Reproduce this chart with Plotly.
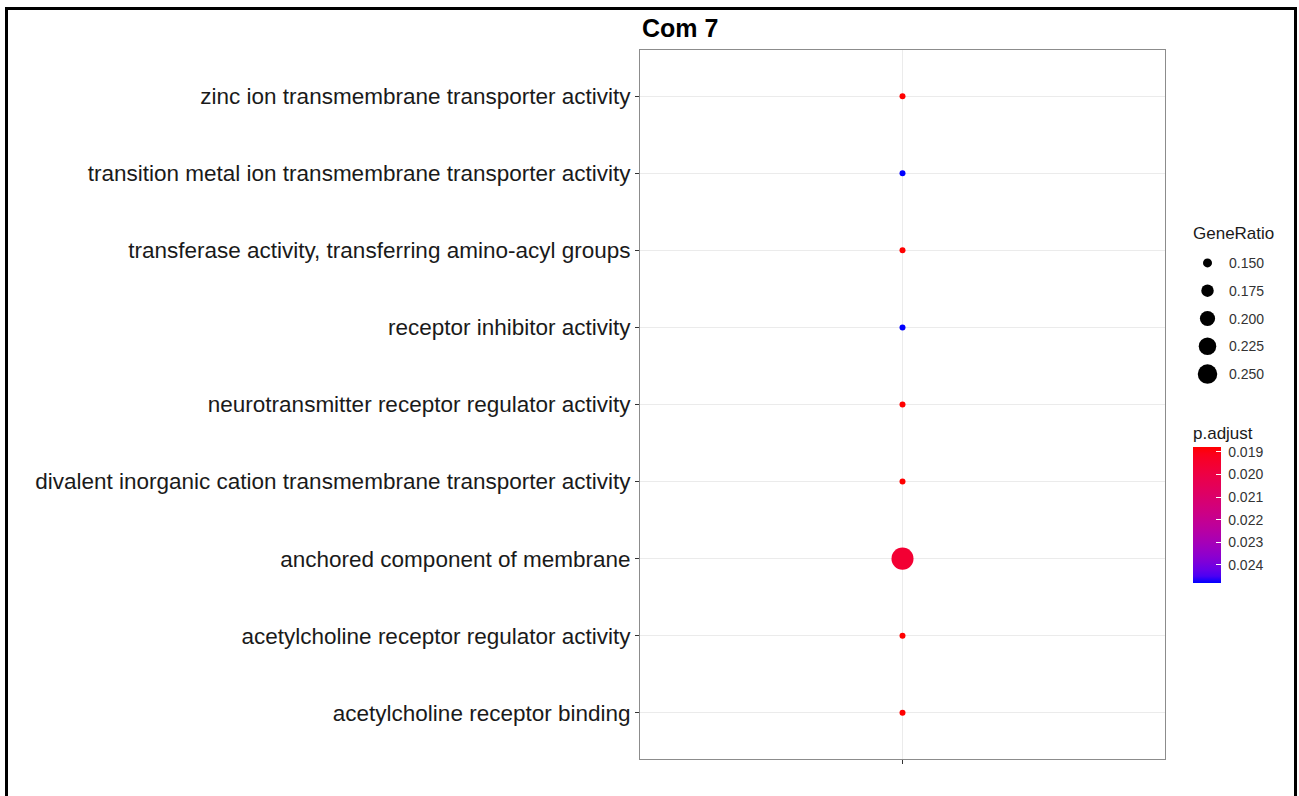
import numpy as np
import plotly.graph_objects as go

# ---- data -------------------------------------------------------------
terms = [
    "acetylcholine receptor binding",
    "acetylcholine receptor regulator activity",
    "anchored component of membrane",
    "divalent inorganic cation transmembrane transporter activity",
    "neurotransmitter receptor regulator activity",
    "receptor inhibitor activity",
    "transferase activity, transferring amino-acyl groups",
    "transition metal ion transmembrane transporter activity",
    "zinc ion transmembrane transporter activity",
]
cluster = ["Com 7"] * len(terms)
gene_ratio = [0.135, 0.135, 0.285, 0.135, 0.135, 0.135, 0.135, 0.135, 0.135]
p_adjust = [0.01878, 0.01878, 0.0196, 0.01878, 0.01878, 0.0248, 0.01878, 0.0248, 0.01878]

size_breaks = [0.150, 0.175, 0.200, 0.225, 0.250]
size_labels = ["0.150", "0.175", "0.200", "0.225", "0.250"]
p_breaks = [0.019, 0.020, 0.021, 0.022, 0.023, 0.024]
p_labels = ["0.019", "0.020", "0.021", "0.022", "0.023", "0.024"]

# ---- figure geometry (pixels) -----------------------------------------
W, H = 1299, 796
FONT = "Liberation Sans, Arial, Helvetica, sans-serif"


def px_x(x):
    return x / W


def px_y(y):
    return 1 - y / H


def marker_diameter(v):
    # area-proportional size scale
    return float(np.sqrt(81 + 3000 * (v - 0.15)))


# ---- red -> blue gradient interpolated in CIE Lab ---------------------
M = np.array([[0.4124, 0.3576, 0.1805],
              [0.2126, 0.7152, 0.0722],
              [0.0193, 0.1192, 0.9505]])
WHITE = np.array([0.95047, 1.0, 1.08883])
D = 6 / 29


def rgb_to_lab(rgb):
    c = np.array(rgb) / 255.0
    lin = np.where(c <= 0.04045, c / 12.92, ((c + 0.055) / 1.055) ** 2.4)
    xyz = M @ lin / WHITE
    f = np.where(xyz > D ** 3, np.cbrt(xyz), xyz / (3 * D * D) + 4 / 29)
    return np.array([116 * f[1] - 16, 500 * (f[0] - f[1]), 200 * (f[1] - f[2])])


def lab_to_rgb(lab):
    L, a, b = lab
    fy = (L + 16) / 116
    f = np.array([fy + a / 500, fy, fy - b / 200])
    xyz = np.where(f > D, f ** 3, 3 * D * D * (f - 4 / 29)) * WHITE
    lin = np.clip(np.linalg.solve(M, xyz), 0, 1)
    c = np.where(lin <= 0.0031308, 12.92 * lin, 1.055 * lin ** (1 / 2.4) - 0.055)
    r, g, bb = np.clip(np.round(c * 255), 0, 255).astype(int)
    return f"rgb({r},{g},{bb})"


lab_blue = rgb_to_lab((0, 0, 255))
lab_red = rgb_to_lab((255, 0, 0))
colorscale = [[t, lab_to_rgb(lab_blue + (lab_red - lab_blue) * t)]
              for t in np.linspace(0, 1, 21)]

# colour is mapped on -p.adjust so the smallest value sits at the top of the bar
neg_p = [-p for p in p_adjust]
NBSP = "\u00a0"

fig = go.Figure()

fig.add_trace(go.Scatter(
    x=cluster, y=terms, mode="markers",
    marker=dict(
        size=[marker_diameter(v) for v in gene_ratio],
        color=neg_p, colorscale=colorscale,
        cmin=-max(p_adjust), cmax=-min(p_adjust),
        line=dict(width=0), opacity=1,
        colorbar=dict(
            title=dict(text="p.adjust", side="top",
                       font=dict(family=FONT, size=17, color="#1a1a1a")),
            x=px_x(1193), xanchor="left", xpad=0,
            y=px_y(423), yanchor="top", ypad=0,
            len=160, lenmode="pixels",
            thickness=28, thicknessmode="pixels",
            outlinewidth=0,
            tickvals=[-v for v in p_breaks], ticktext=[NBSP + t for t in p_labels],
            ticks="inside", ticklen=5, tickcolor="white", tickwidth=1,
            tickfont=dict(family=FONT, size=14, color="#333333"),
        ),
    ),
    showlegend=False, hoverinfo="x+y",
))

# size legend drawn on its own hidden axes
fig.add_trace(go.Scatter(
    x=[0.5] * len(size_breaks), y=list(range(len(size_breaks))),
    mode="markers", xaxis="x2", yaxis="y2",
    marker=dict(size=[marker_diameter(v) for v in size_breaks],
                color="#000000", opacity=1, line=dict(width=0)),
    showlegend=False, hoverinfo="skip", cliponaxis=False,
))

annotations = [
    dict(text="<b>Com 7</b>", x=px_x(640), y=px_y(28), xref="paper", yref="paper",
         xanchor="left", yanchor="middle", showarrow=False,
         font=dict(family=FONT, size=25, color="black")),
    dict(text="GeneRatio", x=px_x(1191), y=px_y(233), xref="paper", yref="paper",
         xanchor="left", yanchor="middle", showarrow=False,
         font=dict(family=FONT, size=17, color="#1a1a1a")),
]
for i, lab in enumerate(size_labels):
    annotations.append(dict(text=lab, x=px_x(1227), y=i, xref="paper", yref="y2",
                            xanchor="left", yanchor="middle", showarrow=False,
                            font=dict(family=FONT, size=14, color="#333333")))

fig.update_layout(
    width=W, height=H,
    margin=dict(l=0, r=0, t=0, b=0),
    paper_bgcolor="white", plot_bgcolor="white",
    font=dict(family=FONT),
    xaxis=dict(domain=[px_x(640), px_x(1165)], type="category", range=[-0.6, 0.6],
               showticklabels=False, ticks="outside", ticklen=4, tickcolor="#333333",
               showgrid=True, gridcolor="#ebebeb", gridwidth=1,
               showline=True, linecolor="#8c8c8c", linewidth=1, mirror=True,
               zeroline=False, fixedrange=True),
    yaxis=dict(domain=[px_y(759), px_y(50)], type="category",
               categoryorder="array", categoryarray=terms, range=[-0.6, len(terms) - 0.4],
               ticks="outside", ticklen=4, tickcolor="#333333",
               tickfont=dict(family=FONT, size=22.5, color="#1a1a1a"),
               showgrid=True, gridcolor="#ebebeb", gridwidth=1,
               showline=True, linecolor="#8c8c8c", linewidth=1, mirror=True,
               zeroline=False, fixedrange=True),
    xaxis2=dict(domain=[px_x(1190), px_x(1225)], range=[0, 1], visible=False,
                anchor="y2", fixedrange=True),
    yaxis2=dict(domain=[px_y(388), px_y(249)], range=[len(size_breaks) - 0.5, -0.5],
                visible=False, anchor="x2", fixedrange=True),
    annotations=annotations,
    shapes=[dict(type="rect", xref="paper", yref="paper",
                 x0=px_x(6.5), x1=px_x(1295.5), y0=px_y(805), y1=px_y(8.5),
                 line=dict(color="black", width=3), fillcolor="rgba(0,0,0,0)")],
)

fig.write_html("out.html")
